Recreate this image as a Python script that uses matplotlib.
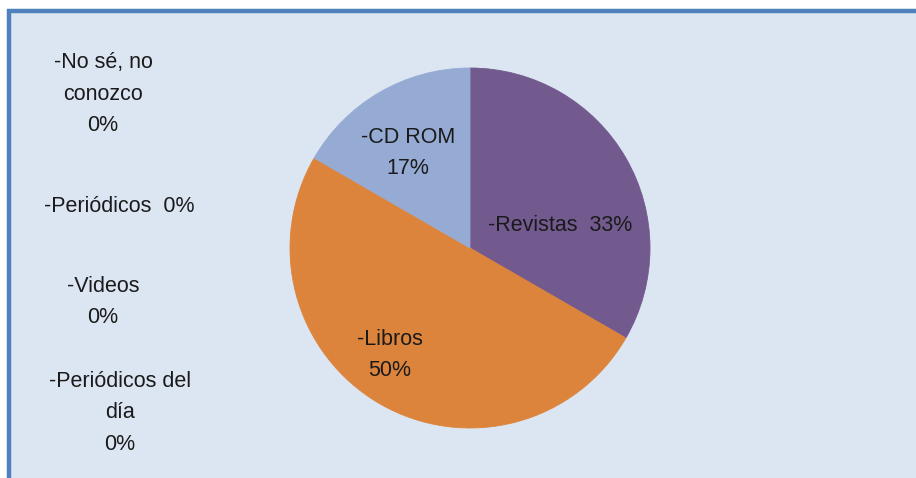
import matplotlib.pyplot as plt
from matplotlib.patches import Rectangle

names = ['-Revistas', '-Libros', '-CD ROM', '-No sé, no\nconozco',
         '-Periódicos', '-Videos', '-Periódicos del\ndía']
values = [2, 3, 1, 0, 0, 0, 0]
colors = ['#725a8f', '#dd843c', '#95abd4', '#4f81bd', '#c0504d', '#9bbb59', '#4bacc6']

total = sum(values)
pcts = [round(100 * v / total) for v in values]

fig = plt.figure(figsize=(9.16, 4.78), dpi=100)
fig.patch.set_facecolor('white')
ax = fig.add_axes([0, 0, 1, 1])

# chart area with blue frame
ax.add_patch(Rectangle((8.5, -20), 940, 478 - 11 + 20, facecolor='#dce6f2',
                       edgecolor='#4f81bd', linewidth=3.2, zorder=0))

wedges, _ = ax.pie(values, colors=colors, startangle=90, counterclock=False,
                   center=(470, 478 - 248), radius=180, frame=True)
for w, v in zip(wedges, values):
    w.set_edgecolor(w.get_facecolor())
    w.set_linewidth(0.6 if v > 0 else 0)
ax.set_xlim(0, 916)
ax.set_ylim(0, 478)
ax.set_aspect('equal')
ax.axis('off')

# label layout (pixel positions, y from top) and separator between name and pct
label_pos = [(560, 225), (390, 355), (408, 153), (103, 94),
             (119, 206), (103, 302), (120, 413)]
seps = ['  ', '\n', '\n', '\n', '  ', '\n', '\n']

for name, p, (px, py), sep in zip(names, pcts, label_pos, seps):
    ax.text(px, 478 - py, f'{name}{sep}{p}%', ha='center', va='center',
            fontsize=15.5, color='#1a1a1a', family='Liberation Sans',
            linespacing=1.68)

fig.savefig('out.png', dpi=100)
